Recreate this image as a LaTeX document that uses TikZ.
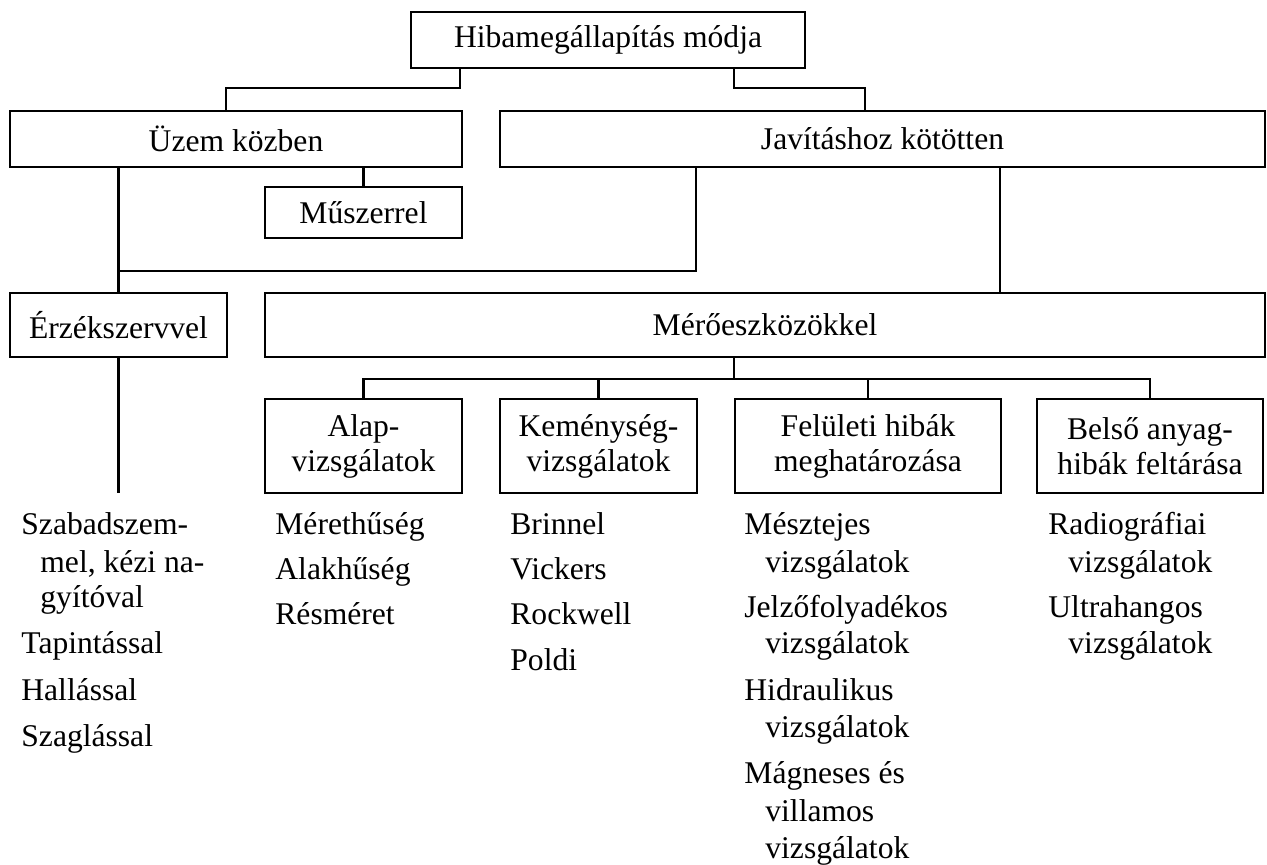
\documentclass[tikz,border=0pt]{standalone}
\usepackage{fontspec}
\setmainfont{Liberation Serif}
\usetikzlibrary{calc}
\begin{document}
\begin{tikzpicture}[x=0.5pt,y=-0.5pt,
  every node/.style={font=\fontsize{15.8pt}{17.5pt}\selectfont},
  box/.style={draw, line width=1.1pt, inner sep=0pt, align=center},
  item/.style={anchor=base west, inner sep=0pt},
  link/.style={line width=1.1pt}]
\useasboundingbox (0,0) rectangle (1267,865);

% boxes
\node[box, minimum width=197pt, minimum height=28pt] (top) at (608,40) {Hibamegállapítás módja};
\node[box, minimum width=226pt, minimum height=28pt] (uzem) at (236,139) {Üzem közben};
\node[box, minimum width=382.5pt, minimum height=28pt] (jav) at (882.5,139) {Javításhoz kötötten};
\node[box, minimum width=98.5pt, minimum height=25.5pt] (musz) at (363.5,212.5) {Műszerrel};
\node[box, minimum width=108.5pt, minimum height=32pt] (erz) at (118.5,325) {Érzékszervvel};
\node[box, minimum width=500pt, minimum height=32pt] (mero) at (765,325) {Mérőeszközökkel};
\node[box, minimum width=98.5pt, minimum height=47pt] (alap) at (363.5,446) {Alap-\\vizsgálatok};
\node[box, minimum width=98.5pt, minimum height=47pt] (kem) at (598.5,446) {Keménység-\\vizsgálatok};
\node[box, minimum width=133pt, minimum height=47pt] (fel) at (868,446) {Felületi hibák\\meghatározása};
\node[box, minimum width=113pt, minimum height=47pt] (bel) at (1150,446) {Belső anyag-\\hibák feltárása};

% connectors
\draw[link] ($(top.south west)+(50,0)$) |- ($(uzem.north west)+(217,-22)$) -- ($(uzem.north west)+(217,0)$);
\draw[link] ($(top.south west)+(324,0)$) |- ($(jav.north west)+(366,-22)$) -- ($(jav.north west)+(366,0)$);
\draw[link] (uzem.south -| musz.north) -- (musz.north);
\draw[link] (uzem.south -| erz.north) -- (erz.north);
\coordinate (join) at ($(erz.north)+(0,-21)$);
\draw[link] ($(jav.south west)+(197,0)$) |- (join);
\draw[link] ($(jav.south west)+(501,0)$) -- ($(mero.north west)+(736,0)$);
\coordinate (bus) at ($(mero.south west)+(470,21)$);
\draw[link] (mero.south -| bus) -- (bus);
\draw[link] (alap.north) |- (bus);
\draw[link] (bel.north) |- (bus);
\draw[link] (kem.north) -- (kem.north |- bus);
\draw[link] (fel.north) -- (fel.north |- bus);
\coordinate (erzend) at ($(erz.south)+(0,135)$);
\draw[link] (erz.south) -- (erzend);

% senses
\node[item] (s1a) at (21,534) {Szabadszem-};
\node[item] (s1b) at (40,572) {mel, kézi na-};
\node[item] (s1c) at (40,607) {gyítóval};
\node[item] (s2) at (21,653) {Tapintással};
\node[item] (s3) at (21,700) {Hallással};
\node[item] (s4) at (21,746) {Szaglással};

% basic tests
\node[item] (a1) at (275,534) {Mérethűség};
\node[item] (a2) at (275,579) {Alakhűség};
\node[item] (a3) at (275,624) {Résméret};

% hardness tests
\node[item] (k1) at (510,534) {Brinnel};
\node[item] (k2) at (510,579) {Vickers};
\node[item] (k3) at (510,624) {Rockwell};
\node[item] (k4) at (510,670) {Poldi};

% surface defects
\node[item] (f1a) at (744,534) {Mésztejes};
\node[item] (f1b) at (765,572) {vizsgálatok};
\node[item] (f2a) at (744,617) {Jelzőfolyadékos};
\node[item] (f2b) at (765,653) {vizsgálatok};
\node[item] (f3a) at (744,700) {Hidraulikus};
\node[item] (f3b) at (765,737) {vizsgálatok};
\node[item] (f4a) at (744,783) {Mágneses és};
\node[item] (f4b) at (765,821) {villamos};
\node[item] (f4c) at (765,858) {vizsgálatok};

% internal defects
\node[item] (b1a) at (1048,534) {Radiográfiai};
\node[item] (b1b) at (1068,572) {vizsgálatok};
\node[item] (b2a) at (1048,617) {Ultrahangos};
\node[item] (b2b) at (1068,653) {vizsgálatok};
\end{tikzpicture}
\end{document}
